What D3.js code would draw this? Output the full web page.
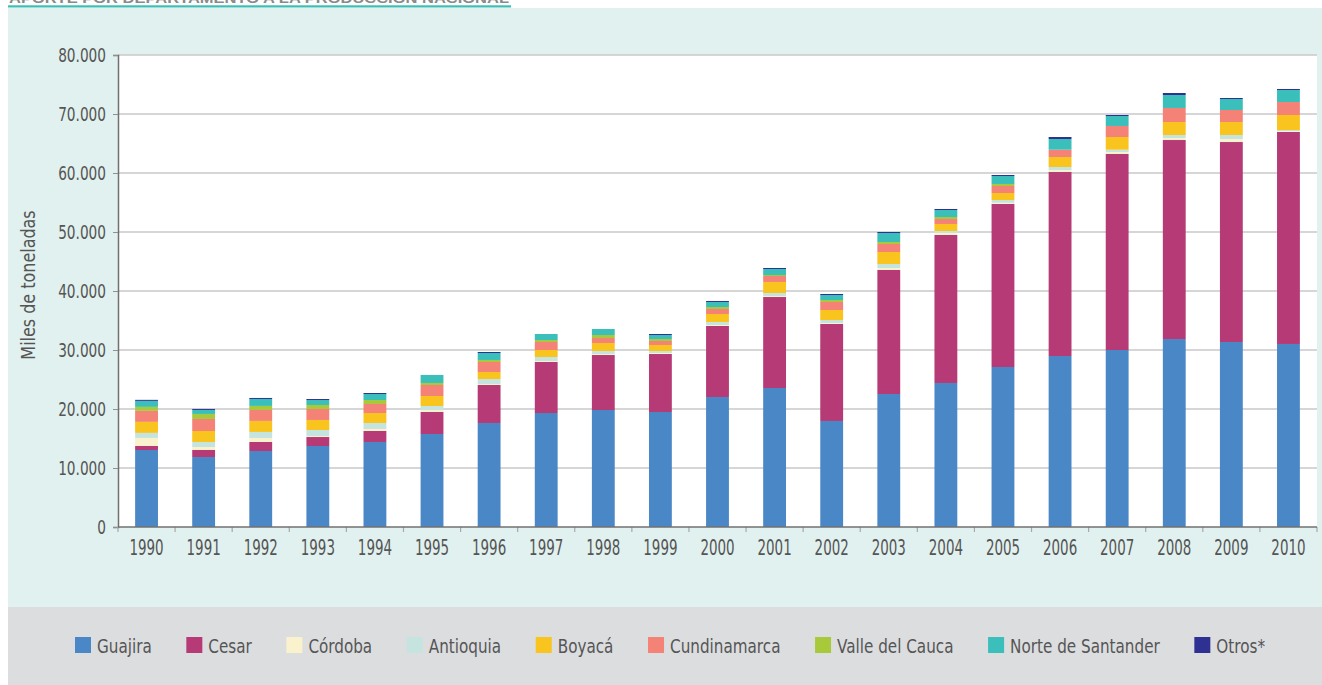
<!DOCTYPE html>
<html>
<head>
<meta charset="utf-8">
<script src="https://cdn.jsdelivr.net/npm/d3@7"></script>
<style>
  html, body { margin: 0; padding: 0; background: #ffffff; }
  svg { display: block; }
  .cond { font-family: "DejaVu Sans", "Liberation Sans", sans-serif; }
</style>
</head>
<body>
<svg id="chart" width="1322" height="685"></svg>
<script>
// ---------------- DATA ----------------
const years = ["1990","1991","1992","1993","1994","1995","1996","1997","1998","1999","2000",
               "2001","2002","2003","2004","2005","2006","2007","2008","2009","2010"];

const guajira      = [13050,11860,12880,13730,14410,15760,17630,19320,19830,19490,22030,23560,17970,22540,24410,27120,28980,30000,31860,31360,31020];
const cesar        = [700,1190,1530,1520,1860,3730,6440,8650,9320,9830,12040,15420,16440,21020,25080,27630,31190,33220,33730,33890,35930];
const cordoba      = [1350,510,680,170,340,340,170,170,170,170,170,170,170,340,340,200,340,340,340,510,170];
const antioquia    = [850,850,1020,1020,1020,680,840,670,510,340,510,510,500,680,340,470,510,390,510,680,170];
const boyaca       = [1870,1860,1870,1700,1690,1690,1190,1190,1360,1020,1350,1870,1700,2030,1190,1190,1690,2150,2200,2200,2540];
const cundinamarca = [1860,2040,1860,1860,1530,1870,1700,1360,840,680,850,1010,1360,1360,840,1190,1240,1870,2380,2040,2200];
const valle        = [680,850,680,680,670,340,340,330,510,330,340,170,330,340,340,340,0,0,0,0,0];
const norte        = [1020,680,1180,840,1020,1360,1180,1020,1020,680,850,1020,850,1520,1190,1350,1810,1690,2200,1860,2040];
const otros        = [170,170,170,170,170,0,170,0,0,170,170,170,170,170,170,170,340,170,340,170,170];

const seriesNames  = ["Guajira","Cesar","Córdoba","Antioquia","Boyacá","Cundinamarca","Valle del Cauca","Norte de Santander","Otros*"];
const seriesValues = [guajira, cesar, cordoba, antioquia, boyaca, cundinamarca, valle, norte, otros];
const seriesColors = ["#4a87c6","#b53a75","#faf2cc","#c5e4e0","#f9c41e","#f58276","#a8c93a","#3bbfbb","#2e3192"];

const yTicks = [0,10000,20000,30000,40000,50000,60000,70000,80000];
const yLabel = "Miles de toneladas";
const titleText = "APORTE POR DEPARTAMENTO A LA PRODUCCIÓN NACIONAL";

// ---------------- LAYOUT ----------------
const svg = d3.select("#chart");
const W = 1322, H = 685;
const plot = { left: 118, right: 1317, top: 55, bottom: 527 };

// squeeze text horizontally to imitate a condensed face
function condense(sel, factor) {
  sel.each(function() {
    const w = this.getComputedTextLength();
    d3.select(this).attr("textLength", w * factor).attr("lengthAdjust", "spacingAndGlyphs");
  });
}

// backgrounds
svg.append("rect").attr("x", 8).attr("y", 8).attr("width", W - 8).attr("height", 599).attr("fill", "#e1f1ef");
svg.append("rect").attr("x", 8).attr("y", 607).attr("width", W - 8).attr("height", H - 607).attr("fill", "#dcdddf");

// cut-off title and underline
svg.append("text")
  .attr("x", 9).attr("y", 2.5)
  .attr("textLength", 500).attr("lengthAdjust", "spacingAndGlyphs")
  .attr("font-family", "'Liberation Sans', Arial, sans-serif")
  .attr("font-weight", "bold").attr("font-size", 12)
  .attr("fill", "#8a8a8a")
  .text(titleText);
svg.append("rect").attr("x", 8).attr("y", 5.3).attr("width", 503).attr("height", 2.2).attr("fill", "#3bbfb5");

// plot background
svg.append("rect")
  .attr("x", plot.left).attr("y", plot.top)
  .attr("width", plot.right - plot.left).attr("height", plot.bottom - plot.top)
  .attr("fill", "#ffffff");

// scales
const x = d3.scaleBand().domain(years).range([plot.left, plot.right]).paddingInner(0.6).paddingOuter(0.3);
const y = d3.scaleLinear().domain([0, 80000]).range([plot.bottom, plot.top]);

// gridlines
svg.append("g").selectAll("line").data(yTicks.filter(d => d > 0)).join("line")
  .attr("x1", plot.left).attr("x2", plot.right)
  .attr("y1", d => y(d)).attr("y2", d => y(d))
  .attr("stroke", "#c8c8c8").attr("stroke-width", 1.5);

// stacked data
const table = years.map((yr, i) => {
  const row = { year: yr };
  seriesNames.forEach((n, k) => row[n] = seriesValues[k][i]);
  return row;
});
const stack = d3.stack().keys(seriesNames)(table);

svg.append("g").selectAll("g").data(stack).join("g")
  .attr("fill", (d, i) => seriesColors[i])
  .selectAll("rect").data(d => d).join("rect")
    .attr("x", d => x(d.data.year))
    .attr("width", x.bandwidth())
    .attr("y", d => y(d[1]))
    .attr("height", d => Math.max(0, y(d[0]) - y(d[1])));

// y axis
const fmt = v => d3.format(",")(v).replace(/,/g, ".");
const yAxis = svg.append("g").attr("transform", `translate(${plot.left},0)`)
  .call(d3.axisLeft(y).tickValues(yTicks).tickFormat(fmt).tickSize(5).tickPadding(7));
yAxis.select(".domain").attr("stroke", "#707070").attr("stroke-width", 1.5);
yAxis.selectAll(".tick line").attr("stroke", "#909090");
yAxis.selectAll("text").attr("class", "cond").attr("font-size", 19).attr("fill", "#555555")
  .attr("font-family", "'DejaVu Sans', sans-serif");
condense(yAxis.selectAll("text"), 0.72);

// x axis
const xAxis = svg.append("g").attr("transform", `translate(0,${plot.bottom})`)
  .call(d3.axisBottom(x).tickSize(0).tickPadding(13));
xAxis.select(".domain").remove();
xAxis.selectAll("text").attr("class", "cond").attr("font-size", 21).attr("fill", "#555555")
  .attr("font-family", "'DejaVu Sans', sans-serif");
condense(xAxis.selectAll("text"), 0.64);
// boundary ticks between categories
const step = x.step();
const boundaries = d3.range(years.length + 1);
const firstEdge = x(years[0]) - step * x.paddingInner() / 2;
svg.append("g").selectAll("line").data(boundaries).join("line")
  .attr("x1", k => firstEdge + k * step)
  .attr("x2", k => firstEdge + k * step)
  .attr("y1", plot.bottom).attr("y2", plot.bottom + 5)
  .attr("stroke", "#a8a8a8").attr("stroke-width", 1.2);
svg.append("line")
  .attr("x1", plot.left).attr("x2", plot.right)
  .attr("y1", plot.bottom).attr("y2", plot.bottom)
  .attr("stroke", "#707070").attr("stroke-width", 1.5);

// y label
const yl = svg.append("text")
  .attr("class", "cond")
  .attr("transform", `translate(35,${285}) rotate(-90)`)
  .attr("text-anchor", "middle")
  .attr("font-size", 19).attr("fill", "#555555")
  .attr("font-family", "'DejaVu Sans', sans-serif")
  .text(yLabel);
condense(yl, 0.84);

// legend
const legend = svg.append("g");
const items = legend.selectAll("g").data(seriesNames).join("g");
items.append("rect").attr("width", 16).attr("height", 16).attr("y", 637)
  .attr("fill", (d, i) => seriesColors[i]);
const ltext = items.append("text").attr("class", "cond")
  .attr("x", 22).attr("y", 653)
  .attr("font-size", 19).attr("fill", "#555555")
  .attr("font-family", "'DejaVu Sans', sans-serif")
  .text(d => d);
condense(ltext, 0.8);
const widths = [];
items.each(function() { widths.push(16 + 6 + +d3.select(this).select("text").attr("textLength")); });
const startX = 75, endX = 1265;
const gap = (endX - startX - d3.sum(widths)) / (widths.length - 1);
let cx = startX;
items.attr("transform", (d, i) => { const t = `translate(${cx},0)`; cx += widths[i] + gap; return t; });
</script>
</body>
</html>
